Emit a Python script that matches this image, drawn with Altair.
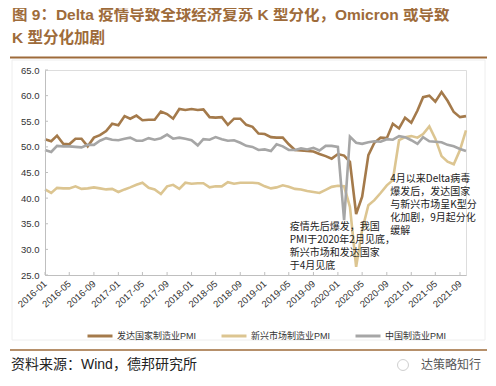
import altair as alt
import pandas as pd

months = pd.date_range("2016-01-01", "2021-10-01", freq="MS").strftime("%Y-%m-%dT00:00:00").tolist()

series_names = ["发达国家制造业PMI", "新兴市场制造业PMI", "中国制造业PMI"]
series_colors = ["#A47A4B", "#DCC591", "#A6A6A6"]

developed = [
    51.5, 51.1, 52.2, 50.6, 50.5, 51.6, 51.6, 50.1, 51.8, 52.3, 53.1, 54.5,
    54.2, 56.0, 55.5, 56.1, 55.2, 55.3, 55.3, 56.9, 56.4, 55.5, 57.4, 57.2,
    57.4, 57.2, 57.3, 55.8, 55.7, 55.8, 54.3, 55.5, 55.5, 54.3, 53.9, 52.6,
    52.5, 51.9, 51.8, 51.8, 50.5, 49.4, 49.3, 49.2, 49.1, 48.6, 48.2, 47.7,
    48.6, 48.3, 47.1, 36.9, 40.3, 48.4, 50.8, 51.8, 51.7, 54.5, 53.6, 55.7,
    54.7, 57.1, 59.7, 60.0, 58.8, 60.7, 59.0, 56.8, 55.8, 56.0,
]
emerging = [
    41.7, 41.0, 42.0, 41.9, 41.9, 42.3, 41.8, 41.9, 42.1, 41.9, 41.7, 41.8,
    41.2, 41.7, 42.1, 42.6, 43.0, 42.0, 41.7, 40.8, 42.3, 42.6, 41.8, 43.0,
    42.8, 42.9, 42.9, 42.1, 42.3, 42.3, 43.1, 42.8, 43.0, 43.0, 43.0, 42.9,
    42.3, 41.9, 42.1, 42.5, 42.2, 41.8, 41.7, 41.4, 41.2, 41.0, 41.6, 42.2,
    42.4, 42.3, 38.3, 26.6, 33.8, 38.6, 39.6, 41.0, 42.5, 43.5, 51.3, 51.9,
    52.1, 51.8, 52.5, 54.0, 51.6, 48.2, 47.1, 46.6, 49.4, 53.2,
]
china = [
    49.4, 49.0, 50.2, 50.1, 50.1, 50.0, 49.9, 50.4, 50.4, 51.2, 51.7, 51.4,
    51.3, 51.6, 51.8, 51.2, 51.2, 51.7, 51.4, 51.7, 52.4, 51.6, 51.8, 51.6,
    51.3, 50.3, 51.5, 51.4, 51.9, 51.5, 51.2, 51.3, 50.8, 50.2, 50.0, 49.4,
    49.5, 49.2, 50.5, 50.1, 49.4, 49.4, 49.7, 49.5, 49.8, 49.3, 50.2, 50.2,
    50.0, 35.7, 52.0, 50.8, 50.6, 50.9, 51.1, 51.0, 51.5, 51.4, 52.1, 51.9,
    51.3, 50.6, 51.9, 51.1, 51.0, 50.9, 50.4, 50.1, 49.6, 49.2,
]

y_ticks = [25, 30, 35, 40, 45, 50, 55, 60, 65]
x_tick_labels = [f"{y}-{m:02d}" for y in range(2016, 2022) for m in (1, 5, 9)]

title_lines = ["图 9：Delta 疫情导致全球经济复苏 K 型分化，Omicron 或导致", "K 型分化加剧"]
note1 = "疫情先后爆发，我国\nPMI于2020年2月见底，\n新兴市场和发达国家\n于4月见底"
note2 = "4月以来Delta病毒\n爆发后，发达国家\n与新兴市场呈K型分\n化加剧，9月起分化\n缓解"
source_text = "资料来源：Wind，德邦研究所"
brand_text = "达策略知行"

rows = []
for name, vals in zip(series_names, [developed, emerging, china]):
    for d, v in zip(months, vals):
        rows.append({"date": d, "series": name, "value": v})
df = pd.DataFrame(rows)

LAT = "Liberation Sans, Noto Sans CJK SC"
CJK = "Noto Sans CJK SC"
BROWN = "#9E6B3A"

x_scale = alt.Scale(domain=[alt.DateTime(year=2016, month=1, date=1),
                            alt.DateTime(year=2021, month=10, date=1)], nice=False)
y_scale = alt.Scale(domain=[25, 65], nice=False, zero=False)

x_axis = alt.Axis(
    values=[alt.DateTime(year=int(s[:4]), month=int(s[5:]), date=1) for s in x_tick_labels],
    format="%Y-%m", labelAngle=-42, labelAlign="right", labelBaseline="middle",
    labelFont=LAT, labelFontSize=9.5, labelColor="#333333", labelPadding=7,
    tickSize=0, domainColor="#BFBFBF", grid=False, title=None, labelOverlap=False,
    labelFlush=False, labelBound=False, zindex=1,
)
y_axis = alt.Axis(
    values=y_ticks, format=".1f", labelFont=LAT, labelFontSize=9.5, labelColor="#333333",
    labelPadding=6, tickSize=0, domainColor="#BFBFBF", grid=False, title=None,
    labelOverlap=False, zindex=1,
)

frame = alt.Chart(pd.DataFrame({"k": [0]})).mark_rect(
    fillOpacity=0, stroke="#EEEEEE", strokeWidth=1
).encode(x=alt.value(-33), x2=alt.value(440), y=alt.value(-10), y2=alt.value(270))

lines = alt.Chart(df).mark_line(strokeWidth=2.6).encode(
    x=alt.X("date:T", scale=x_scale, axis=x_axis),
    y=alt.Y("value:Q", scale=y_scale, axis=y_axis),
    color=alt.Color(
        "series:N",
        scale=alt.Scale(domain=series_names, range=series_colors),
        sort=series_names,
        legend=alt.Legend(
            orient="none", legendX=41, legendY=252, direction="horizontal", title=None,
            symbolType="stroke", symbolSize=625, symbolStrokeWidth=3,
            labelFont=LAT, labelFontSize=9, labelColor="#333333",
            columnPadding=18, labelOffset=3, padding=0,
        ),
    ),
    detail="series:N",
)

xt_df = pd.DataFrame({"date": [s + "-01T00:00:00" for s in x_tick_labels]})
x_ticks = alt.Chart(xt_df).mark_rule(color="#BFBFBF", strokeWidth=1).encode(
    x=alt.X("date:T", scale=x_scale, axis=x_axis), y=alt.value(205), y2=alt.value(202)
)
yt_df = pd.DataFrame({"v": y_ticks})
y_tick_marks = alt.Chart(yt_df).mark_rule(color="#BFBFBF", strokeWidth=1).encode(
    y=alt.Y("v:Q", scale=y_scale, axis=y_axis), x=alt.value(0), x2=alt.value(3)
)

notes_df = pd.DataFrame({
    "date": ["2019-05-06T00:00:00", "2020-09-18T00:00:00"],
    "value": [35.4, 44.7],
    "text": [note1, note2],
})
notes = alt.Chart(notes_df).mark_text(
    align="left", baseline="top", font=CJK, fontSize=10, lineHeight=13,
    lineBreak="\n", color="#222222",
).encode(x=alt.X("date:T", scale=x_scale, axis=x_axis),
         y=alt.Y("value:Q", scale=y_scale, axis=y_axis), text="text:N")

title1 = alt.Chart(pd.DataFrame({"t": [title_lines[0]]})).mark_text(
    align="left", baseline="middle", font=LAT, fontSize=15.5, fontWeight="bold", color=BROWN
).encode(x=alt.value(-33), y=alt.value(-55), text="t:N")
title2 = alt.Chart(pd.DataFrame({"t": [title_lines[1]]})).mark_text(
    align="left", baseline="middle", font=LAT, fontSize=15.5, fontWeight="bold", color=BROWN
).encode(x=alt.value(-33), y=alt.value(-32), text="t:N")

top_rule = alt.Chart(pd.DataFrame({"k": [0]})).mark_rule(color=BROWN, strokeWidth=2).encode(
    x=alt.value(-35), x2=alt.value(442), y=alt.value(-12.5)
)
bottom_rule = alt.Chart(pd.DataFrame({"k": [0]})).mark_rule(color=BROWN, strokeWidth=1.5).encode(
    x=alt.value(-35), x2=alt.value(442), y=alt.value(280)
)
source = alt.Chart(pd.DataFrame({"t": [source_text]})).mark_text(
    align="left", baseline="middle", font=LAT, fontSize=14, color="#222222"
).encode(x=alt.value(-34), y=alt.value(295), text="t:N")
brand = alt.Chart(pd.DataFrame({"t": [brand_text]})).mark_text(
    align="left", baseline="middle", font=CJK, fontSize=12, color="#555555"
).encode(x=alt.value(376), y=alt.value(295), text="t:N")
icon = alt.Chart(pd.DataFrame({"k": [0]})).mark_point(
    shape="circle", size=120, color="#BBBBBB", strokeWidth=1, filled=False
).encode(x=alt.value(358), y=alt.value(295))

chart = alt.layer(
    frame, lines, x_ticks, y_tick_marks, notes, title1, title2,
    top_rule, bottom_rule, source, brand, icon,
).properties(
    width=421, height=205,
    padding={"left": 37, "top": 62, "right": 22, "bottom": 103},
    autosize=alt.AutoSizeParams(type="none"),
).configure_view(stroke=None).configure(background="white")

chart.save("out.html", embed_options={"renderer": "svg", "actions": False})
